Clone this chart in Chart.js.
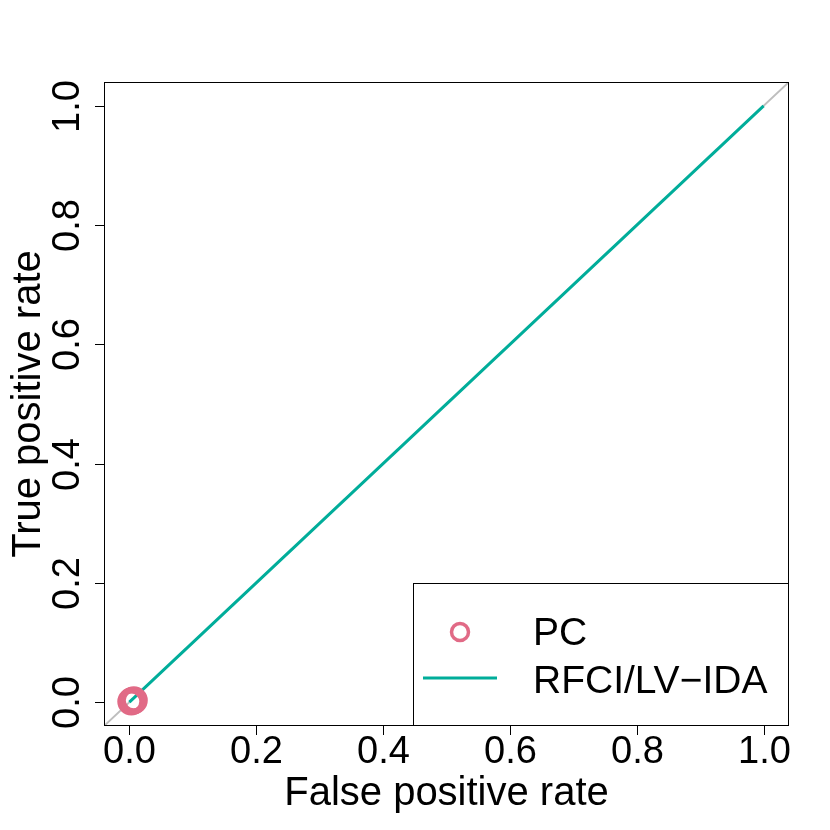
<!DOCTYPE html>
<html><head><meta charset="utf-8">
<script src="https://cdn.jsdelivr.net/npm/chart.js@4"></script>
<style>html,body{margin:0;padding:0;background:#fff}</style></head>
<body><canvas id="c" width="830" height="830" style="width:830px;height:830px;display:block"></canvas>
<script>
const tickValues = [0, 0.2, 0.4, 0.6, 0.8, 1.0];
const tickLabels = ["0.0", "0.2", "0.4", "0.6", "0.8", "1.0"];
const pcFpr = [0.003, 0.005, 0.007];
const pcTpr = [0.001, 0.002, 0.003];
const rfciFpr = [0, 1];
const rfciTpr = [0, 1];
const refFpr = [-0.04, 1.04];
const refTpr = [-0.04, 1.04];
const legendLabels = ["PC", "RFCI/LV\u2212IDA"];
const xTitle = "False positive rate";
const yTitle = "True positive rate";

const PINK = "#E16A86", TEAL = "#00AD9A", GRAY = "#BEBEBE";
const FONT = "'Liberation Sans', Arial, Helvetica, sans-serif";

const zip = (xs, ys) => xs.map((x, i) => ({x, y: ys[i]}));

const decor = {
  id: 'decor',
  afterDraw(chart) {
    const ctx = chart.ctx, a = chart.chartArea;
    const xs = chart.scales.x, ys = chart.scales.y;
    ctx.save();
    ctx.strokeStyle = "#000"; ctx.lineWidth = 1;
    ctx.strokeRect(a.left + 0.5, a.top + 0.5, a.right - a.left - 1, a.bottom - a.top - 1);
    ctx.fillStyle = "#000";
    ctx.font = "38px " + FONT;
    ctx.textAlign = "center"; ctx.textBaseline = "alphabetic";
    tickValues.forEach((v, i) => {
      const px = Math.round(xs.getPixelForValue(v)) + 0.5;
      ctx.beginPath(); ctx.moveTo(px, a.bottom); ctx.lineTo(px, a.bottom + 9); ctx.stroke();
      ctx.fillText(tickLabels[i], px, 763);
    });
    tickValues.forEach((v, i) => {
      const py = Math.round(ys.getPixelForValue(v)) + 0.5;
      ctx.beginPath(); ctx.moveTo(a.left, py); ctx.lineTo(a.left - 9, py); ctx.stroke();
      ctx.save(); ctx.translate(79, py); ctx.rotate(-Math.PI / 2);
      ctx.fillText(tickLabels[i], 0, 0); ctx.restore();
    });
    ctx.font = "40px " + FONT;
    ctx.fillText(xTitle, (a.left + a.right) / 2, 805);
    ctx.save(); ctx.translate(40, (a.top + a.bottom) / 2); ctx.rotate(-Math.PI / 2);
    ctx.fillText(yTitle, 0, 0); ctx.restore();
    const lw = 376, lh = 143;
    const lx = a.right - lw, ly = a.bottom - lh;
    ctx.fillStyle = "#fff";
    ctx.fillRect(lx, ly, lw, lh);
    ctx.strokeStyle = "#000"; ctx.lineWidth = 1;
    ctx.strokeRect(lx + 0.5, ly + 0.5, lw - 1, lh - 1);
    ctx.strokeStyle = PINK; ctx.lineWidth = 3.5;
    ctx.beginPath(); ctx.arc(lx + 47, ly + 49, 8.5, 0, Math.PI * 2); ctx.stroke();
    ctx.strokeStyle = TEAL; ctx.lineWidth = 3;
    ctx.beginPath(); ctx.moveTo(lx + 10, ly + 95); ctx.lineTo(lx + 84, ly + 95); ctx.stroke();
    ctx.fillStyle = "#000"; ctx.font = "39px " + FONT; ctx.textAlign = "left";
    ctx.fillText(legendLabels[0], lx + 120, ly + 62);
    ctx.fillText(legendLabels[1], lx + 120, ly + 110);
    ctx.restore();
  }
};

new Chart(document.getElementById('c'), {
  type: 'scatter',
  data: {
    datasets: [
      { label: 'ref', data: zip(refFpr, refTpr), showLine: true, borderColor: GRAY, borderWidth: 2, pointRadius: 0, order: 3 },
      { label: legendLabels[1], data: zip(rfciFpr, rfciTpr), showLine: true, borderColor: TEAL, borderWidth: 3, pointRadius: 0, order: 2 },
      { label: legendLabels[0], data: zip(pcFpr, pcTpr), showLine: false, pointStyle: 'circle', pointRadius: 11, pointBorderWidth: 6, borderColor: PINK, pointBorderColor: PINK, backgroundColor: 'rgba(0,0,0,0)', pointBackgroundColor: 'rgba(0,0,0,0)', order: 1 }
    ]
  },
  options: {
    responsive: false, animation: false, devicePixelRatio: 1,
    layout: { padding: { top: 82, right: 41, left: 0, bottom: 0 } },
    plugins: { legend: { display: false }, tooltip: { enabled: false } },
    scales: {
      x: { type: 'linear', min: -0.04, max: 1.04, ticks: { display: false }, grid: { display: false }, border: { display: false }, afterFit: s => { s.height = 104; } },
      y: { type: 'linear', min: -0.04, max: 1.04, ticks: { display: false }, grid: { display: false }, border: { display: false }, afterFit: s => { s.width = 104; } }
    }
  },
  plugins: [decor]
});
</script>
</body></html>
